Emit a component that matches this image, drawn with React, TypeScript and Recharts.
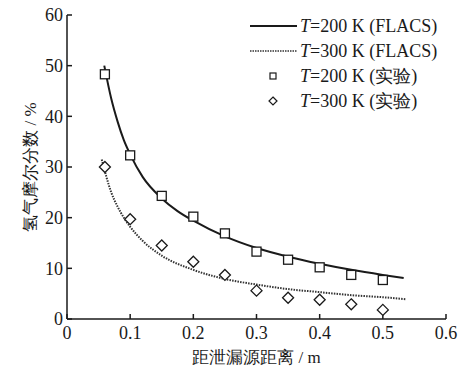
import React from "react";
import { ComposedChart, Line, Scatter, XAxis, YAxis, Label } from "recharts";

const xTicks = [0, 0.1, 0.2, 0.3, 0.4, 0.5, 0.6];
const yTicks = [0, 10, 20, 30, 40, 50, 60];

// experiment points
const expX = [0.06, 0.1, 0.15, 0.2, 0.25, 0.3, 0.35, 0.4, 0.45, 0.5];
const exp200 = [48.3, 32.3, 24.3, 20.2, 16.9, 13.3, 11.7, 10.2, 8.7, 7.7];
const exp300 = [30.0, 19.7, 14.5, 11.3, 8.7, 5.6, 4.2, 3.8, 2.9, 1.8];

// FLACS curves
const fit200X = [0.059, 0.07, 0.08, 0.09, 0.1, 0.12, 0.15, 0.175, 0.2, 0.25, 0.3, 0.35, 0.4, 0.45, 0.5, 0.533];
const fit200Y = [50, 43.5, 39, 35.3, 32.5, 28, 23.8, 21.3, 19.4, 16.3, 14, 12.3, 10.9, 9.7, 8.7, 8.1];
const fit300X = [0.055, 0.07, 0.08, 0.09, 0.1, 0.12, 0.15, 0.2, 0.25, 0.3, 0.35, 0.4, 0.45, 0.5, 0.537];
const fit300Y = [31.5, 25, 22.2, 20, 18.2, 15.4, 12.5, 9.7, 7.9, 6.8, 5.9, 5.3, 4.7, 4.3, 3.9];

const legendTemps = ["200", "300", "200", "300"];
const legendTags = ["(FLACS)", "(FLACS)", "(实验)", "(实验)"];

const FONT = "'Liberation Serif', 'Times New Roman', serif";
const INK = "#1a1a1a";

const toPts = (xs: number[], ys: number[]) => xs.map((x, i) => ({ x, y: ys[i] }));

const Square = (props: any) => {
  const { cx, cy } = props;
  return <rect x={cx - 4.5} y={cy - 4.5} width={9} height={9} fill="#fff" stroke={INK} strokeWidth={1.3} />;
};

const Diamond = (props: any) => {
  const { cx, cy } = props;
  const r = 5.5;
  return (
    <polygon
      points={`${cx},${cy - r} ${cx + r},${cy} ${cx},${cy + r} ${cx - r},${cy}`}
      fill="#fff"
      stroke={INK}
      strokeWidth={1.3}
    />
  );
};

const XTick = ({ x, y, payload }: any) => (
  <text x={x} y={y} dy="0.71em" textAnchor="middle" fontFamily={FONT} fontSize={18} fill={INK}>
    {String(payload.value)}
  </text>
);

const YTick = ({ x, y, payload }: any) => (
  <text x={x} y={y} dy="0.355em" textAnchor="end" fontFamily={FONT} fontSize={18} fill={INK}>
    {String(payload.value)}
  </text>
);

const LegendBox = () => (
  <svg
    width={210}
    height={110}
    style={{ position: "absolute", left: 245, top: 12, overflow: "visible" }}
  >
    {legendTemps.map((t, i) => {
      const y = 14 + i * 25;
      let mark: React.ReactNode;
      if (i === 0) mark = <line x1={5} x2={52} y1={y} y2={y} stroke={INK} strokeWidth={2} />;
      else if (i === 1)
        mark = <line x1={5} x2={52} y1={y} y2={y} stroke="#333" strokeWidth={1.6} strokeDasharray="1.5 1" />;
      else if (i === 2) mark = <rect x={25} y={y - 3} width={6} height={6} fill="#fff" stroke={INK} strokeWidth={1.2} />;
      else
        mark = (
          <polygon
            points={`28,${y - 4} 32,${y} 28,${y + 4} 24,${y}`}
            fill="#fff"
            stroke={INK}
            strokeWidth={1.2}
          />
        );
      return (
        <g key={i}>
          {mark}
          <text x={55} y={y + 6} fontFamily={FONT} fontSize={18} fill={INK}>
            <tspan fontStyle="italic">T</tspan>
            <tspan>{`=${t} K ${legendTags[i]}`}</tspan>
          </text>
        </g>
      );
    })}
  </svg>
);

export default function App() {
  return (
    <div style={{ position: "absolute", left: 0, top: 0, width: 460, height: 368, fontFamily: FONT }}>
      <ComposedChart
        width={460}
        height={368}
        margin={{ top: 15, right: 14, bottom: 19, left: 27 }}
        style={{ fontFamily: FONT }}
      >
        <XAxis
          type="number"
          dataKey="x"
          domain={[0, 0.6]}
          ticks={xTicks}
          height={30}
          tickSize={-5}
          tickMargin={12}
          stroke={INK}
          strokeWidth={1.5}
          tick={<XTick />}
          allowDataOverflow
        >
          <Label
            value="距泄漏源距离 / m"
            position="insideBottom"
            offset={-14}
            fill={INK}
            fontSize={17}
            fontFamily={FONT}
          />
        </XAxis>
        <YAxis
          type="number"
          dataKey="y"
          domain={[0, 60]}
          ticks={yTicks}
          width={40}
          tickSize={-5}
          tickMargin={9}
          stroke={INK}
          strokeWidth={1.5}
          tick={<YTick />}
        >
          <Label
            value="氢气摩尔分数 / %"
            angle={-90}
            position="center"
            dx={-17}
            fill={INK}
            fontSize={17}
            fontFamily={FONT}
          />
        </YAxis>
        <Line
          data={toPts(fit200X, fit200Y)}
          dataKey="y"
          type="monotone"
          stroke={INK}
          strokeWidth={2}
          dot={false}
          isAnimationActive={false}
        />
        <Line
          data={toPts(fit300X, fit300Y)}
          dataKey="y"
          type="monotone"
          stroke="#333"
          strokeWidth={2}
          strokeDasharray="1.5 1.2"
          dot={false}
          isAnimationActive={false}
        />
        <Scatter data={toPts(expX, exp200)} shape={Square} isAnimationActive={false} />
        <Scatter data={toPts(expX, exp300)} shape={Diamond} isAnimationActive={false} />
      </ComposedChart>
      <LegendBox />
    </div>
  );
}
